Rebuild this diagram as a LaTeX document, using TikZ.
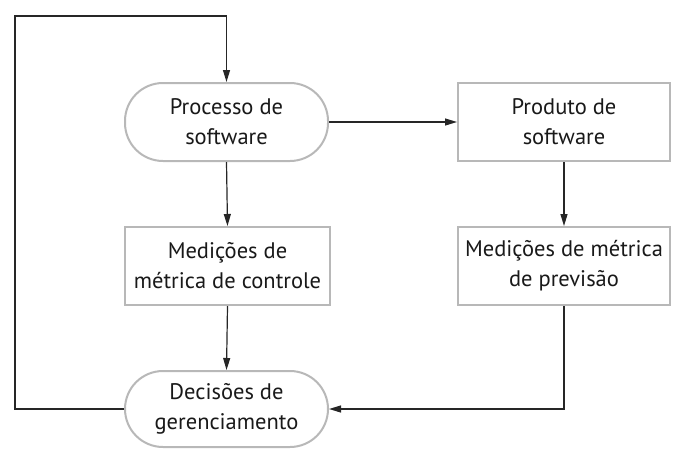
\documentclass[tikz,border=0pt]{standalone}
\usepackage{fontspec}
\setmainfont{PT Sans}
\usetikzlibrary{arrows.meta}
\begin{document}
\begin{tikzpicture}[x=1pt,y=-1pt,
  box/.style={draw=black!28, line width=2pt, fill=white, align=center, inner sep=0pt,
    font=\fontsize{22.5}{30}\selectfont, text=black!90},
  stadium/.style={box, rounded corners=38pt},
  conn/.style={draw=black!85, line width=1.2pt, -{Triangle[length=12pt,width=7pt]}},
  line/.style={draw=black!85, line width=1.2pt}]
\useasboundingbox (0,0) rectangle (688,464);
\node[stadium, minimum width=203pt, minimum height=78pt] (proc) at (226.5,122) {Processo de\\software};
\node[box, minimum width=212pt, minimum height=78pt] (prod) at (564,122) {Produto de\\software};
\node[box, minimum width=205pt, minimum height=78pt] (ctrl) at (227.5,266) {Medições de\\métrica de controle};
\node[box, minimum width=212pt, minimum height=78pt] (prev) at (564,266) {Medições de métrica\\de previsão};
\node[stadium, minimum width=203pt, minimum height=76pt] (dec) at (226.5,409) {Decisões de\\gerenciamento};
\coordinate (c1) at (15,409);
\coordinate (c2) at (15,16);
\coordinate (c3) at (226.5,16);
\coordinate (c4) at (564,409);
\draw[conn] (proc.east) -- (prod.west);
\draw[conn] (proc.south) -- (ctrl.north);
\draw[conn] (prod.south) -- (prev.north);
\draw[conn] (ctrl.south) -- (dec.north);
\draw[conn] (prev.south) -- (c4) -- (dec.east);
\draw[conn] (dec.west) -- (c1) -- (c2) -- (c3) -- (proc.north);
\end{tikzpicture}
\end{document}
